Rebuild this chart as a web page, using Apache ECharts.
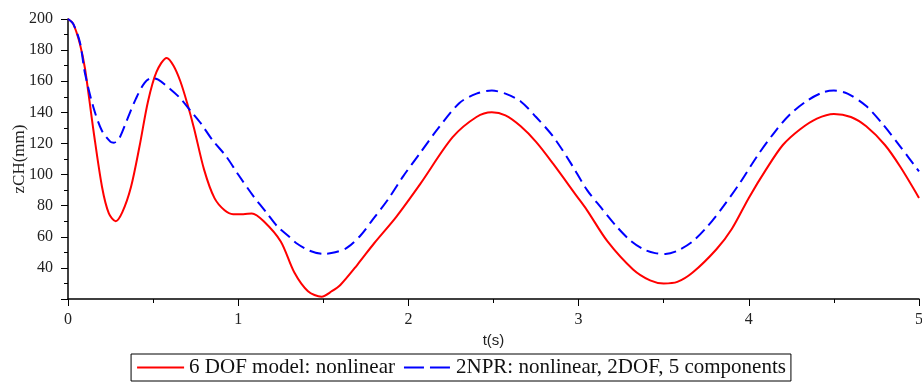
<!DOCTYPE html>
<html>
<head>
<meta charset="utf-8">
<script src="https://cdn.jsdelivr.net/npm/echarts@6/dist/echarts.min.js"></script>
<style>
  html, body { margin: 0; padding: 0; background: #fff; }
  #chart { width: 922px; height: 383px; }
</style>
</head>
<body>
<div id="chart"></div>
<script>
// 6 DOF model (red, solid)
const redT = [0, 0.03, 0.07, 0.1, 0.15, 0.2, 0.24, 0.28, 0.32, 0.37, 0.42, 0.47, 0.52, 0.58, 0.62, 0.66, 0.7, 0.74,
  0.8, 0.86, 0.92, 0.97, 1.03, 1.08, 1.15, 1.25, 1.33, 1.41, 1.49, 1.55, 1.6, 1.7, 1.8, 1.93, 2.07, 2.26, 2.4,
  2.49, 2.57, 2.66, 2.75, 2.85, 2.99, 3.05, 3.17, 3.32, 3.42, 3.5, 3.58, 3.67, 3.81, 3.9, 4.0, 4.1, 4.2, 4.3,
  4.4, 4.5, 4.6, 4.69, 4.8, 4.89, 5.0];
const redV = [200, 197, 184, 168, 128, 92, 75, 70, 76, 92, 118, 147, 166, 175, 170, 160, 146, 130,
  103, 85, 77, 74.5, 74.5, 75, 70, 57, 37, 25, 21.5, 25, 29, 42, 56, 73, 94, 124, 137,
  140, 138, 131, 121, 107, 86, 77, 57, 39, 32, 30, 31, 37, 52, 65, 85, 103, 119, 129,
  136, 139, 137, 131, 119, 105, 85];

// 2NPR model (blue, dashed)
const blueT = [0, 0.03, 0.07, 0.1, 0.15, 0.2, 0.25, 0.27, 0.3, 0.35, 0.4, 0.45, 0.49, 0.53, 0.6, 0.66, 0.72, 0.78,
  0.85, 0.93, 1.0, 1.09, 1.17, 1.23, 1.3, 1.34, 1.42, 1.5, 1.57, 1.64, 1.72, 1.79, 1.88, 1.97, 2.07, 2.17, 2.3,
  2.4, 2.49, 2.57, 2.66, 2.75, 2.85, 2.95, 3.05, 3.13, 3.22, 3.3, 3.38, 3.45, 3.51, 3.58, 3.67, 3.76, 3.85,
  3.95, 4.05, 4.15, 4.24, 4.35, 4.44, 4.5, 4.58, 4.69, 4.79, 4.89, 5.0];
const blueV = [200, 197, 185, 165, 143, 128, 121, 120.5, 123, 136, 149, 159, 162, 161, 155, 149, 141, 133,
  122, 111.6, 100, 86, 75, 66.7, 60, 56, 51, 49, 50, 53, 61, 71, 84, 99, 114, 129, 146,
  152, 154, 152, 147, 137, 124.5, 108, 90, 79, 67, 58, 52, 49.5, 49, 51, 57, 67, 79.5,
  95, 112, 127, 138.5, 148, 153, 154, 152, 144, 132, 118, 102];

const seriesNames = ['6 DOF model: nonlinear', '2NPR: nonlinear, 2DOF, 5 components'];

const pair = (t, v) => t.map((x, i) => [x, v[i]]);

const chart = echarts.init(document.getElementById('chart'));

const serif = 'Liberation Serif';

chart.setOption({
  animation: false,
  grid: { left: 68, right: 3, top: 19, bottom: 84, outerBoundsMode: 'none' },
  legend: {
    data: [
      { name: seriesNames[0] },
      { name: seriesNames[1], lineStyle: { type: [20, 6] } }
    ],
    left: 'center',
    top: 354,
    padding: [3, 5, 3, 5],
    borderColor: '#000',
    borderWidth: 1,
    itemWidth: 47,
    itemHeight: 14,
    itemGap: 8,
    itemStyle: { color: 'rgba(0,0,0,0)', borderWidth: 0, opacity: 0 },
    textStyle: { fontFamily: serif, fontSize: 21, color: '#111' }
  },
  xAxis: {
    type: 'value',
    min: 0,
    max: 5,
    interval: 1,
    name: 't(s)',
    nameLocation: 'middle',
    nameGap: 30,
    nameTextStyle: { fontFamily: 'Liberation Sans', fontSize: 15, color: '#222' },
    axisLine: { lineStyle: { color: '#000', width: 1.5 } },
    axisTick: { length: 7, lineStyle: { color: '#000' } },
    minorTick: { show: true, splitNumber: 2, length: 4, lineStyle: { color: '#000' } },
    axisLabel: { fontFamily: serif, fontSize: 16, color: '#222', margin: 13 },
    splitLine: { show: false }
  },
  yAxis: {
    type: 'value',
    min: 20,
    max: 200,
    interval: 20,
    name: 'zCH(mm)',
    nameLocation: 'middle',
    nameGap: 40,
    nameMoveOverlap: false,
    nameTextStyle: { fontFamily: serif, fontSize: 17, color: '#222' },
    axisLine: { show: true, lineStyle: { color: '#000', width: 1.5 } },
    axisTick: { show: true, length: 7, lineStyle: { color: '#000' } },
    minorTick: { show: true, splitNumber: 2, length: 4, lineStyle: { color: '#000' } },
    axisLabel: {
      fontFamily: serif, fontSize: 16, color: '#222', margin: 15,
      formatter: v => (v === 20 ? '' : String(v))
    },
    splitLine: { show: false }
  },
  series: [
    {
      name: seriesNames[0],
      type: 'line',
      data: pair(redT, redV),
      smooth: 0.3,
      symbol: 'none',
      lineStyle: { color: '#ff0000', width: 2 },
      itemStyle: { color: '#ff0000' }
    },
    {
      name: seriesNames[1],
      type: 'line',
      data: pair(blueT, blueV),
      smooth: 0.3,
      symbol: 'none',
      lineStyle: { color: '#0000ff', width: 2, type: [12, 6] },
      itemStyle: { color: '#0000ff' }
    }
  ]
});
</script>
</body>
</html>
